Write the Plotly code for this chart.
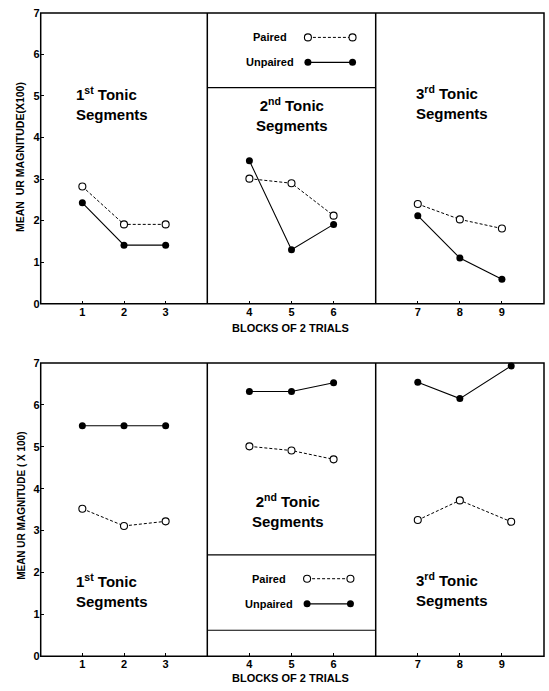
import plotly.graph_objects as go

# ---------------- data ----------------
blocks_top = [[1, 2, 3], [4, 5, 6], [7, 8, 9]]
paired_top = [[2.82, 1.91, 1.91], [3.01, 2.90, 2.12], [2.40, 2.03, 1.81]]
unpaired_top = [[2.43, 1.41, 1.41], [3.44, 1.30, 1.91], [2.12, 1.10, 0.59]]

blocks_bottom = [[1, 2, 3], [4, 5, 6], [7, 8, 9.22]]
paired_bottom = [[3.52, 3.11, 3.22], [5.01, 4.91, 4.70], [3.25, 3.72, 3.21]]
unpaired_bottom = [[5.50, 5.50, 5.50], [6.32, 6.32, 6.53], [6.54, 6.15, 6.93]]

tick_vals = [[1, 2, 3], [4, 5, 6], [7, 8, 9]]
tick_text = [["1", "2", "3"], ["4", "5", "6"], ["7", "8", "9"]]
y_ticks = [0, 1, 2, 3, 4, 5, 6, 7]
segment_names = ["1<sup>st</sup> Tonic", "2<sup>nd</sup> Tonic", "3<sup>rd</sup> Tonic"]

# ---------------- layout constants ----------------
W, H = 549, 691
FONT = "Liberation Sans, Arial, Helvetica, sans-serif"
x_pix = [(40.7, 207.3), (207.3, 375.7), (375.7, 544.0)]
y_pix_top = (7.0, 303.0)
y_pix_bot = (363.3, 661.7)
x_ranges = [[0, 4], [3, 7], [6, 10]]

fig = go.Figure()

def ax_name(row, col):
    i = row * 3 + col + 1
    return ("x" if i == 1 else f"x{i}"), ("y" if i == 1 else f"y{i}")

dash_style = "3px,2px"

for row, (blocks, paired, unpaired) in enumerate([
        (blocks_top, paired_top, unpaired_top),
        (blocks_bottom, paired_bottom, unpaired_bottom)]):
    for col in range(3):
        xa, ya = ax_name(row, col)
        fig.add_trace(go.Scatter(
            x=blocks[col], y=paired[col], xaxis=xa, yaxis=ya, mode="lines+markers",
            line=dict(color="black", width=1, dash=dash_style),
            marker=dict(symbol="circle", size=7, color="white",
                        line=dict(color="black", width=1.1)),
            showlegend=False, hoverinfo="skip", cliponaxis=False))
        fig.add_trace(go.Scatter(
            x=blocks[col], y=unpaired[col], xaxis=xa, yaxis=ya, mode="lines+markers",
            line=dict(color="black", width=1.1),
            marker=dict(symbol="circle", size=7, color="black"),
            showlegend=False, hoverinfo="skip", cliponaxis=False))

# ---------------- axes ----------------
layout = dict(
    width=W, height=H, margin=dict(l=0, r=0, t=0, b=0),
    paper_bgcolor="white", plot_bgcolor="white",
    font=dict(family=FONT, color="black"),
)
for row in range(2):
    yp = y_pix_top if row == 0 else y_pix_bot
    ydom = [1 - yp[1] / H, 1 - yp[0] / H]
    for col in range(3):
        i = row * 3 + col + 1
        xkey = "xaxis" if i == 1 else f"xaxis{i}"
        ykey = "yaxis" if i == 1 else f"yaxis{i}"
        xa, ya = ax_name(row, col)
        layout[xkey] = dict(
            domain=[x_pix[col][0] / W, x_pix[col][1] / W], range=x_ranges[col],
            anchor=ya, showline=False, showgrid=False, zeroline=False,
            ticks="inside", ticklen=3, tickwidth=1,
            tickcolor="black", tickvals=tick_vals[col], ticktext=tick_text[col],
            tickfont=dict(size=11, weight="bold", family=FONT))
        layout[ykey] = dict(
            domain=ydom, range=[0, 7], anchor=xa, showline=False,
            showgrid=False, zeroline=False,
            ticks="inside" if col == 0 else "", ticklen=3, tickwidth=1, tickcolor="black",
            tickvals=y_ticks, showticklabels=(col == 0),
            tickfont=dict(size=11, weight="bold", family=FONT))
fig.update_layout(**layout)

# ---------------- frames and legend boxes ----------------
frame_line = dict(color="black", width=1.5)
shapes = []
for yp in (y_pix_top, y_pix_bot):
    shapes.append(dict(type="rect", xref="paper", yref="paper",
                       x0=x_pix[0][0] / W, x1=x_pix[2][1] / W,
                       y0=1 - yp[1] / H, y1=1 - yp[0] / H, line=frame_line))
    for xd in (x_pix[1][0], x_pix[2][0]):
        shapes.append(dict(type="line", xref="paper", yref="paper",
                           x0=xd / W, x1=xd / W, y0=1 - yp[1] / H, y1=1 - yp[0] / H,
                           line=frame_line))
shapes += [
    dict(type="line", xref="x2 domain", yref="y2", x0=0, x1=1, y0=5.2, y1=5.2,
         line=dict(color="black", width=1.2)),
    dict(type="line", xref="x5 domain", yref="y5", x0=0, x1=1, y0=2.42, y1=2.42,
         line=dict(color="black", width=1.2)),
    dict(type="line", xref="x5 domain", yref="y5", x0=0, x1=1, y0=0.62, y1=0.62,
         line=dict(color="black", width=1.2)),
]
fig.update_layout(shapes=shapes)

legend_specs = [("x2", "y2", [5.39, 6.45], 6.41, 5.81, 4.49),
                ("x5", "y5", [5.37, 6.40], 1.85, 1.25, 4.46)]
annotations = []
for xa, ya, lx, yp_, yu_, tx in legend_specs:
    fig.add_trace(go.Scatter(
        x=lx, y=[yp_, yp_], xaxis=xa, yaxis=ya, mode="lines+markers",
        line=dict(color="black", width=1, dash=dash_style),
        marker=dict(symbol="circle", size=7, color="white", line=dict(color="black", width=1.1)),
        showlegend=False, hoverinfo="skip"))
    fig.add_trace(go.Scatter(
        x=lx, y=[yu_, yu_], xaxis=xa, yaxis=ya, mode="lines+markers",
        line=dict(color="black", width=1.1),
        marker=dict(symbol="circle", size=7, color="black"),
        showlegend=False, hoverinfo="skip"))
    annotations.append(dict(xref=xa, yref=ya, x=tx, y=yp_, text="Paired", showarrow=False,
                            xanchor="center", yanchor="middle",
                            font=dict(size=11, weight="bold", family=FONT)))
    annotations.append(dict(xref=xa, yref=ya, x=tx, y=yu_, text="Unpaired", showarrow=False,
                            xanchor="center", yanchor="middle",
                            font=dict(size=11, weight="bold", family=FONT)))

# ---------------- segment labels ----------------
seg_pos = [
    # (xref, yref, x, y_center, anchor)
    ("x", "y", 0.80, 4.82, "left"),
    ("x2", "y2", 5.0, 4.56, "center"),
    ("x3", "y3", 6.92, 4.85, "left"),
    ("x4", "y4", 0.80, 1.58, "left"),
    ("x5", "y5", 4.92, 3.47, "center"),
    ("x6", "y6", 6.92, 1.60, "left"),
]
seg_font = dict(size=15, family=FONT, weight="bold")
for k, (xa, ya, x, yc, anc) in enumerate(seg_pos):
    name = segment_names[k % 3]
    annotations.append(dict(xref=xa, yref=ya, x=x, y=yc, text=name + "<br>Segments",
                            showarrow=False, align=anc, xanchor=anc, yanchor="middle",
                            font=seg_font))

# ---------------- axis titles ----------------
title_font = dict(size=11, weight="bold", family=FONT)
annotations += [
    dict(xref="paper", yref="paper", x=290 / W, y=1 - 328 / H, text="BLOCKS OF 2 TRIALS",
         showarrow=False, xanchor="center", yanchor="middle", font=title_font),
    dict(xref="paper", yref="paper", x=290 / W, y=1 - 684 / H, text="BLOCKS OF 2 TRIALS",
         showarrow=False, xanchor="center", yanchor="middle", font=title_font),
    dict(xref="paper", yref="paper", x=20.7 / W, y=1 - 154 / H, text="MEAN  UR MAGNITUDE(X100)",
         showarrow=False, textangle=-90, xanchor="center", yanchor="middle",
         font=dict(size=10.5, weight="bold", family=FONT)),
    dict(xref="paper", yref="paper", x=20.7 / W, y=1 - 509 / H, text="MEAN UR MAGNITUDE ( X 100)",
         showarrow=False, textangle=-90, xanchor="center", yanchor="middle",
         font=dict(size=10, weight="bold", family=FONT)),
]
fig.update_layout(annotations=annotations)

fig.write_html("out.html", config={"displayModeBar": False},
               post_script="document.body.style.margin='0';document.body.style.overflow='hidden';")
